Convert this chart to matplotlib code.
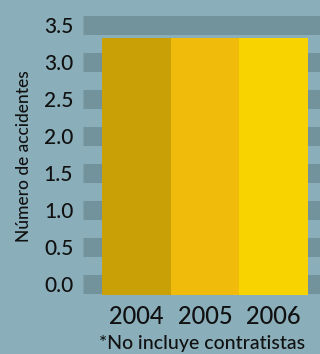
import matplotlib
matplotlib.use("Agg")
import matplotlib.pyplot as plt

years = ["2004", "2005", "2006"]
values = [3.33, 3.33, 3.33]
colors = ["#c9a006", "#f0bb0a", "#f8d300"]
yticks = [0.0, 0.5, 1.0, 1.5, 2.0, 2.5, 3.0, 3.5]

bg = "#8aafbb"
band = "#73939c"
ymin, ymax = -0.149, 3.843

fig = plt.figure(figsize=(3.2, 3.54), dpi=100, facecolor=bg)
ax = fig.add_axes([83/320, 59/354, 237/320, 295/354])
ax.set_facecolor(bg)

for t in yticks:
    ax.axhline(t, color=band, linewidth=13.7, zorder=1, solid_capstyle="butt")

x = list(range(len(years)))
ax.bar(x, [v - ymin for v in values], bottom=ymin, width=1.0, color=colors, zorder=2)

ax.set_xlim(-0.777, 2.675)
ax.set_ylim(ymin, ymax)
ax.set_yticks(yticks)
ax.set_yticklabels([f"{t:.1f}" for t in yticks], fontsize=15, family="Lato",
                   fontweight="medium", color="#111111")
ax.set_xticks(x)
ax.set_xticklabels(years, fontsize=17, family="Lato", fontweight="medium", color="#111111")
ax.tick_params(axis="y", length=0, pad=7)
ax.tick_params(axis="x", length=0, pad=7)
for s in ax.spines.values():
    s.set_visible(False)

fig.text(24/320, 1 - 156/354, "Número de accidentes", rotation=90, ha="center", va="center",
         fontsize=12.5, family="Lato", fontweight="medium", color="#111111")
fig.text(202/320, 1 - 344/354, "*No incluye contratistas", ha="center", va="center",
         fontsize=14, family="Lato", fontweight="medium", color="#111111")

fig.savefig("out.png", dpi=100, facecolor=bg)
